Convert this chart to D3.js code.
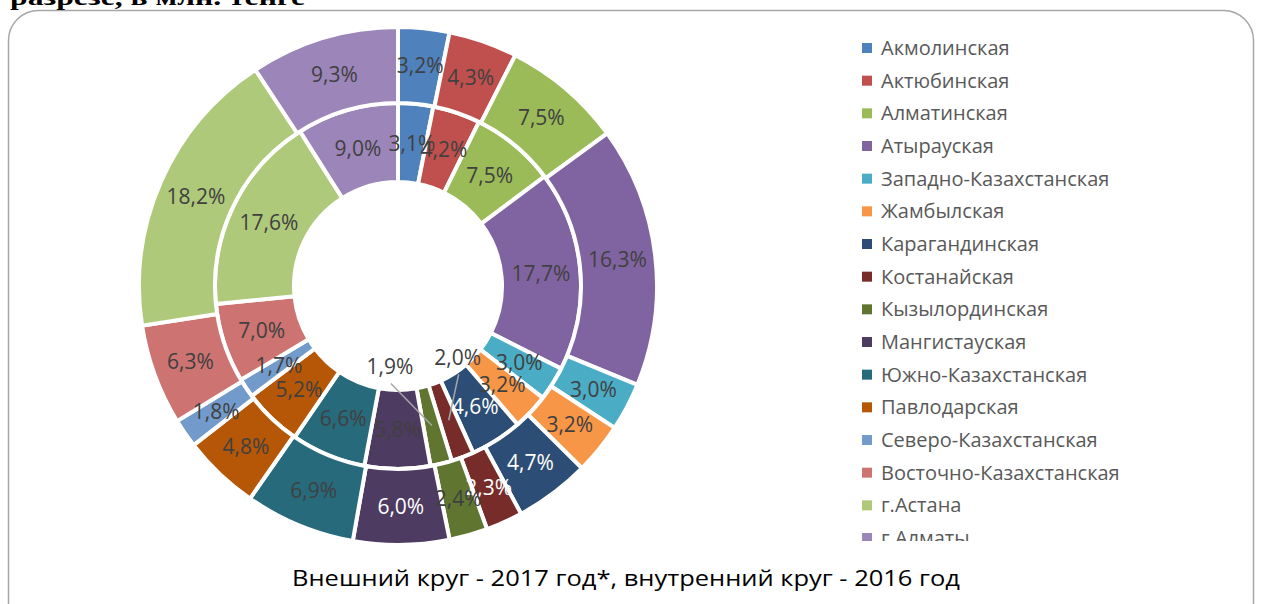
<!DOCTYPE html>
<html>
<head>
<meta charset="utf-8">
<script src="https://cdn.jsdelivr.net/npm/d3@7"></script>
<style>
  body { margin: 0; background: #fff; }
</style>
</head>
<body>
<div id="chart"></div>
<script>
// Data
const regions = ["Акмолинская", "Актюбинская", "Алматинская", "Атырауская",
    "Западно-Казахстанская", "Жамбылская", "Карагандинская", "Костанайская",
    "Кызылординская", "Мангистауская", "Южно-Казахстанская", "Павлодарская",
    "Северо-Казахстанская", "Восточно-Казахстанская", "г.Астана", "г.Алматы"];
const share2017 = [3.2, 4.3, 7.5, 16.3, 3.0, 3.2, 4.7, 2.3, 2.4, 6.0, 6.9, 4.8, 1.8, 6.3, 18.2, 9.3];
const share2016 = [3.1, 4.2, 7.5, 17.7, 3.0, 3.2, 4.6, 2.0, 1.9, 5.8, 6.6, 5.2, 1.7, 7.0, 17.6, 9.0];
const colors = ["#4f81bd", "#c0504d", "#9bbb59", "#8064a2", "#4bacc6", "#f79646",
    "#2c4d75", "#772c2a", "#5f7530", "#4d3b62", "#276a7c", "#b65708",
    "#729aca", "#cd7371", "#afc97a", "#9c85b8"];
const titleText = "разрезе, в млн. тенге";
const captionText = "Внешний круг - 2017 год*, внутренний круг - 2016 год";

// labels on dark slices are white
const white2017 = [6, 7, 9];
const white2016 = [6];
// small inner labels pushed into the hole (offset from centroid)
const moved2016 = { 7: [9, -63], 8: [-42, -59] };

const W = 1262, H = 604;
const cx = 398, cy = 286;

const svg = d3.select("#chart").append("svg")
    .attr("width", W)
    .attr("height", H)
    .style("font-family", "'Open Sans', 'Noto Sans', sans-serif");

// frame
svg.append("rect")
    .attr("x", 8.5).attr("y", 10.5)
    .attr("width", 1245).attr("height", 640)
    .attr("rx", 30).attr("ry", 30)
    .attr("fill", "#fff")
    .attr("stroke", "#a6a6a6")
    .attr("stroke-width", 1.5);

// cut-off heading above the frame
svg.append("text")
    .attr("x", 10).attr("y", 5)
    .attr("font-family", "'Liberation Serif', serif")
    .attr("font-weight", "bold")
    .attr("font-size", 23)
    .attr("textLength", 295)
    .attr("lengthAdjust", "spacingAndGlyphs")
    .attr("fill", "#000")
    .text(titleText);

const fmt = v => d3.format(".1f")(v).replace(".", ",") + "%";

const pie = d3.pie().sort(null).value(d => d);

const chart = svg.append("g")
    .attr("transform", "translate(" + cx + "," + cy + ")");

function ring(values, r0, r1, whiteIdx, moved) {
    const arc = d3.arc().innerRadius(r0).outerRadius(r1);
    const arcs = pie(values);
    const g = chart.append("g");
    g.selectAll("path")
        .data(arcs)
        .enter()
        .append("path")
        .attr("d", arc)
        .attr("fill", (d, i) => colors[i])
        .attr("stroke", "#fff")
        .attr("stroke-width", 4);
    return { arcs: arcs, arc: arc, whiteIdx: whiteIdx, moved: moved, g: g };
}

const inner = ring(share2016, 104, 183, white2016, moved2016);
const outer = ring(share2017, 183, 259, white2017, {});

// labels after both rings, so that they stay on top
[inner, outer].forEach(function (r) {
    r.arcs.forEach(function (d, i) {
        const c = r.arc.centroid(d);
        let x = c[0], y = c[1];
        if (r.moved[i]) {
            x = c[0] + r.moved[i][0];
            y = c[1] + r.moved[i][1];
            chart.append("line")
                .attr("x1", x + 1).attr("y1", y + 17)
                .attr("x2", c[0]).attr("y2", c[1])
                .attr("stroke", "#a6a6a6")
                .attr("stroke-width", 1.5);
        }
        chart.append("text")
            .attr("x", x).attr("y", y)
            .attr("dy", "0.35em")
            .attr("text-anchor", "middle")
            .attr("font-size", 21)
            .attr("fill", r.whiteIdx.includes(i) ? "#fff" : "#404040")
            .text(fmt(d.data));
    });
});

// legend (last row is cut by the plot area)
svg.append("clipPath")
    .attr("id", "legendClip")
    .append("rect")
    .attr("x", 840).attr("y", 20)
    .attr("width", 400).attr("height", 521);

const legend = svg.append("g")
    .attr("clip-path", "url(#legendClip)");

const rowY = d3.scaleLinear().domain([0, 15]).range([48, 538]);

const items = legend.selectAll("g.item")
    .data(regions)
    .enter()
    .append("g")
    .attr("class", "item")
    .attr("transform", (d, i) => "translate(862," + rowY(i) + ")");

items.append("rect")
    .attr("x", 0).attr("y", -5)
    .attr("width", 10).attr("height", 10)
    .attr("fill", (d, i) => colors[i]);

items.append("text")
    .attr("x", 19).attr("y", 0)
    .attr("dy", "0.35em")
    .attr("font-size", 20)
    .attr("fill", "#595959")
    .text(d => d);

// caption
svg.append("text")
    .attr("x", 626).attr("y", 586)
    .attr("text-anchor", "middle")
    .attr("font-size", 21)
    .attr("textLength", 668)
    .attr("lengthAdjust", "spacingAndGlyphs")
    .attr("fill", "#000")
    .text(captionText);
</script>
</body>
</html>
